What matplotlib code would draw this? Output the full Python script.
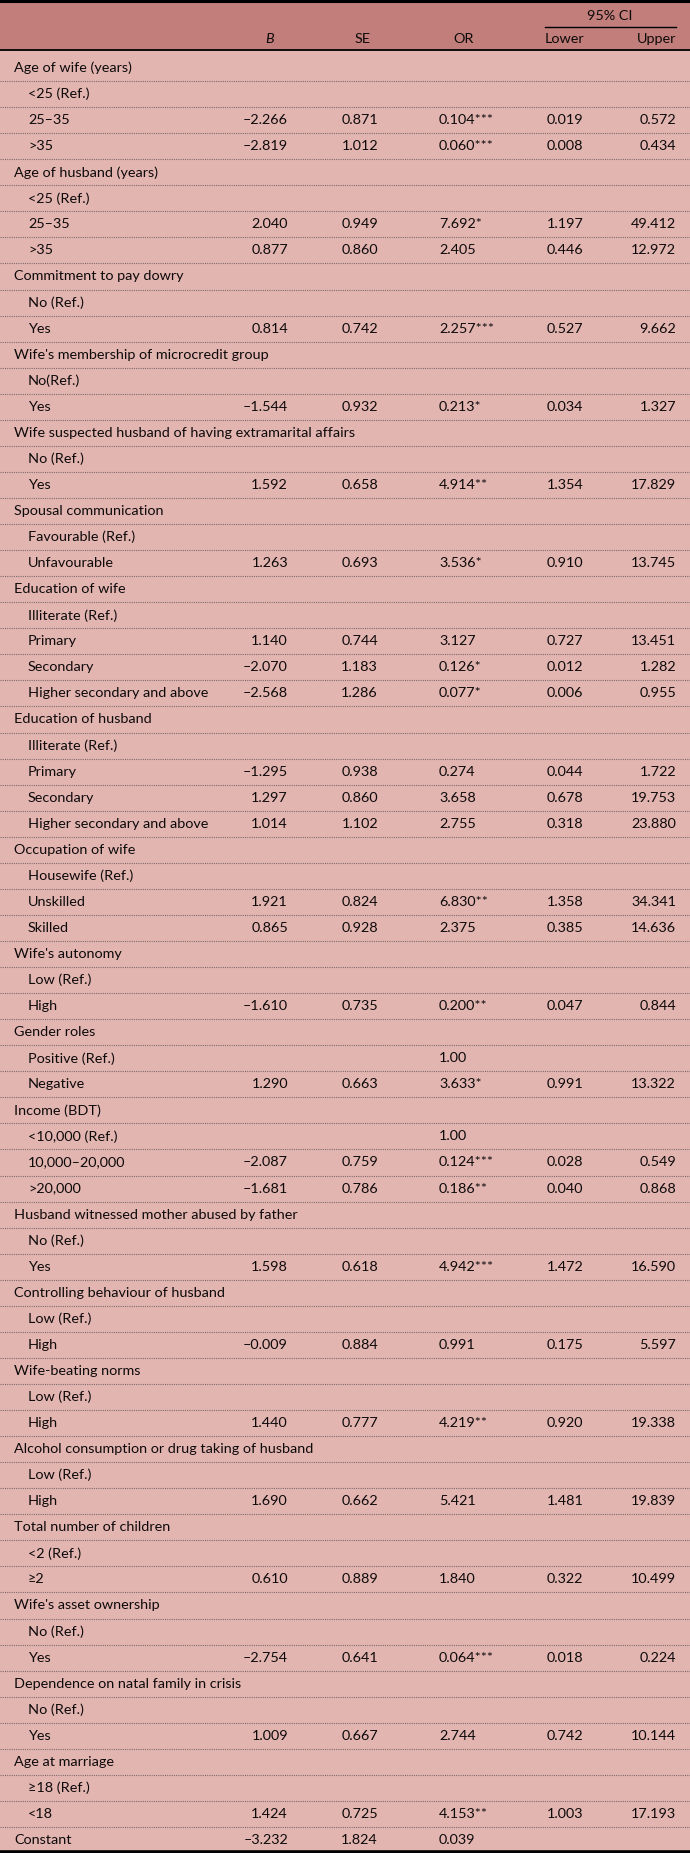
import matplotlib
matplotlib.use("Agg")
import matplotlib.pyplot as plt
import numpy as np

plt.rcParams['font.family'] = ['Lato', 'DejaVu Sans']

# table content
labels = [
    "Age of wife (years)", "<25 (Ref.)", "25–35", ">35",
    "Age of husband (years)", "<25 (Ref.)", "25–35", ">35",
    "Commitment to pay dowry", "No (Ref.)", "Yes",
    "Wife's membership of microcredit group", "No(Ref.)", "Yes",
    "Wife suspected husband of having extramarital affairs", "No (Ref.)", "Yes",
    "Spousal communication", "Favourable (Ref.)", "Unfavourable",
    "Education of wife", "Illiterate (Ref.)", "Primary", "Secondary", "Higher secondary and above",
    "Education of husband", "Illiterate (Ref.)", "Primary", "Secondary", "Higher secondary and above",
    "Occupation of wife", "Housewife (Ref.)", "Unskilled", "Skilled",
    "Wife's autonomy", "Low (Ref.)", "High",
    "Gender roles", "Positive (Ref.)", "Negative",
    "Income (BDT)", "<10,000 (Ref.)", "10,000–20,000", ">20,000",
    "Husband witnessed mother abused by father", "No (Ref.)", "Yes",
    "Controlling behaviour of husband", "Low (Ref.)", "High",
    "Wife-beating norms", "Low (Ref.)", "High",
    "Alcohol consumption or drug taking of husband", "Low (Ref.)", "High",
    "Total number of children", "<2 (Ref.)", "≥2",
    "Wife's asset ownership", "No (Ref.)", "Yes",
    "Dependence on natal family in crisis", "No (Ref.)", "Yes",
    "Age at marriage", "≥18 (Ref.)", "<18",
    "Constant",
]
# 0 = group heading, 1 = indented level
indent = [
    0, 1, 1, 1,
    0, 1, 1, 1,
    0, 1, 1,
    0, 1, 1,
    0, 1, 1,
    0, 1, 1,
    0, 1, 1, 1, 1,
    0, 1, 1, 1, 1,
    0, 1, 1, 1,
    0, 1, 1,
    0, 1, 1,
    0, 1, 1, 1,
    0, 1, 1,
    0, 1, 1,
    0, 1, 1,
    0, 1, 1,
    0, 1, 1,
    0, 1, 1,
    0, 1, 1,
    0, 1, 1,
    0,
]
B = [
    "", "", "–2.266", "–2.819",
    "", "", "2.040", "0.877",
    "", "", "0.814",
    "", "", "–1.544",
    "", "", "1.592",
    "", "", "1.263",
    "", "", "1.140", "–2.070", "–2.568",
    "", "", "–1.295", "1.297", "1.014",
    "", "", "1.921", "0.865",
    "", "", "–1.610",
    "", "", "1.290",
    "", "", "–2.087", "–1.681",
    "", "", "1.598",
    "", "", "–0.009",
    "", "", "1.440",
    "", "", "1.690",
    "", "", "0.610",
    "", "", "–2.754",
    "", "", "1.009",
    "", "", "1.424",
    "–3.232",
]
SE = [
    "", "", "0.871", "1.012",
    "", "", "0.949", "0.860",
    "", "", "0.742",
    "", "", "0.932",
    "", "", "0.658",
    "", "", "0.693",
    "", "", "0.744", "1.183", "1.286",
    "", "", "0.938", "0.860", "1.102",
    "", "", "0.824", "0.928",
    "", "", "0.735",
    "", "", "0.663",
    "", "", "0.759", "0.786",
    "", "", "0.618",
    "", "", "0.884",
    "", "", "0.777",
    "", "", "0.662",
    "", "", "0.889",
    "", "", "0.641",
    "", "", "0.667",
    "", "", "0.725",
    "1.824",
]
OR = [
    "", "", "0.104***", "0.060***",
    "", "", "7.692*", "2.405",
    "", "", "2.257***",
    "", "", "0.213*",
    "", "", "4.914**",
    "", "", "3.536*",
    "", "", "3.127", "0.126*", "0.077*",
    "", "", "0.274", "3.658", "2.755",
    "", "", "6.830**", "2.375",
    "", "", "0.200**",
    "", "1.00", "3.633*",
    "", "1.00", "0.124***", "0.186**",
    "", "", "4.942***",
    "", "", "0.991",
    "", "", "4.219**",
    "", "", "5.421",
    "", "", "1.840",
    "", "", "0.064***",
    "", "", "2.744",
    "", "", "4.153**",
    "0.039",
]
lower = [
    "", "", "0.019", "0.008",
    "", "", "1.197", "0.446",
    "", "", "0.527",
    "", "", "0.034",
    "", "", "1.354",
    "", "", "0.910",
    "", "", "0.727", "0.012", "0.006",
    "", "", "0.044", "0.678", "0.318",
    "", "", "1.358", "0.385",
    "", "", "0.047",
    "", "", "0.991",
    "", "", "0.028", "0.040",
    "", "", "1.472",
    "", "", "0.175",
    "", "", "0.920",
    "", "", "1.481",
    "", "", "0.322",
    "", "", "0.018",
    "", "", "0.742",
    "", "", "1.003",
    "",
]
upper = [
    "", "", "0.572", "0.434",
    "", "", "49.412", "12.972",
    "", "", "9.662",
    "", "", "1.327",
    "", "", "17.829",
    "", "", "13.745",
    "", "", "13.451", "1.282", "0.955",
    "", "", "1.722", "19.753", "23.880",
    "", "", "34.341", "14.636",
    "", "", "0.844",
    "", "", "13.322",
    "", "", "0.549", "0.868",
    "", "", "16.590",
    "", "", "5.597",
    "", "", "19.338",
    "", "", "19.839",
    "", "", "10.499",
    "", "", "0.224",
    "", "", "10.144",
    "", "", "17.193",
    "",
]

W, H = 690, 1853
header_bg = '#c27e7a'
body_bg = '#e2b5b1'
txt = '#0e0a0a'
fs = 10.4

fig = plt.figure(figsize=(W / 100, H / 100), dpi=100, facecolor=body_bg)
ax = fig.add_axes([0, 0, 1, 1])
ax.set_xlim(0, W)
ax.set_ylim(H, 0)
ax.axis('off')

ax.axhspan(0, 50, color=header_bg, lw=0)
ax.axhline(1, color='black', lw=2.2)
ax.axhline(50, color='black', lw=1.3)
ax.axhline(1851.5, color='black', lw=2.6)

# header
ax.text(610, 16, "95% CI", ha='center', va='center', fontsize=fs, color=txt)
ax.plot([545, 676], [27, 27], color='black', lw=1.0)
hy = 39
ax.text(270, hy, "B", ha='center', va='center', fontsize=fs, color=txt, style='italic')
ax.text(363, hy, "SE", ha='center', va='center', fontsize=fs, color=txt)
ax.text(453, hy, "OR", ha='left', va='center', fontsize=fs, color=txt)
ax.text(545, hy, "Lower", ha='left', va='center', fontsize=fs, color=txt)
ax.text(676, hy, "Upper", ha='right', va='center', fontsize=fs, color=txt)

n = len(labels)
y0, pitch = 68, (1840 - 68) / (n - 1)
ys = y0 + pitch * np.arange(n)
for i, y in enumerate(ys):
    x = 28 if indent[i] else 14
    ax.text(x, y, labels[i], ha='left', va='center', fontsize=fs, color=txt)
    ax.text(288, y, B[i], ha='right', va='center', fontsize=fs, color=txt)
    ax.text(378, y, SE[i], ha='right', va='center', fontsize=fs, color=txt)
    ax.text(439, y, OR[i], ha='left', va='center', fontsize=fs, color=txt)
    ax.text(547, y, lower[i], ha='left', va='center', fontsize=fs, color=txt)
    ax.text(676, y, upper[i], ha='right', va='center', fontsize=fs, color=txt)
    if i < n - 1:
        ax.axhline(y + pitch / 2, color='#7f6a6a', lw=0.8, ls=(0, (1, 1)))

fig.savefig('out.png', dpi=100, facecolor=body_bg)
